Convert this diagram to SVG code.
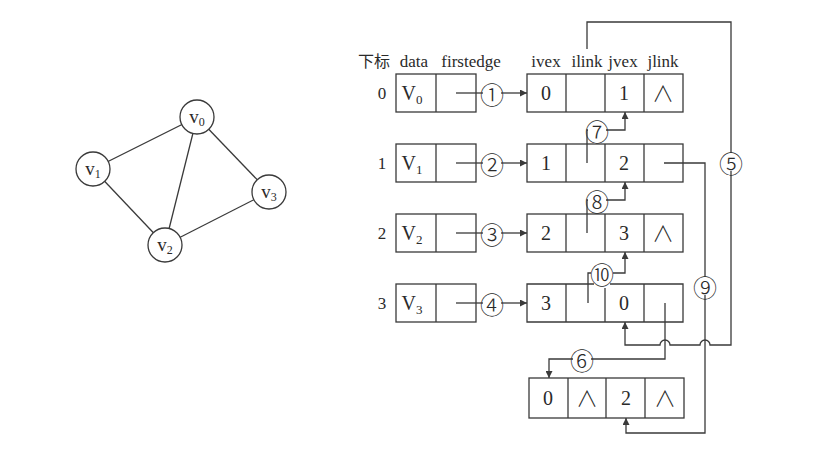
<svg xmlns="http://www.w3.org/2000/svg" width="826" height="459" viewBox="0 0 826 459">
<style>
.ln{stroke:#3a3a3a;stroke-width:1.3;fill:none}
.bx{stroke:#3a3a3a;stroke-width:1.3;fill:#fff}
.t{font-family:"Liberation Serif","Times New Roman",serif;fill:#2a2a2a;text-anchor:middle}
.v{font-size:20px}
.h{font-size:17px}
.s{font-size:13px}
.w{font-family:"Noto Sans CJK SC","DejaVu Sans",sans-serif;font-size:22px;font-weight:300;fill:#2a2a2a;text-anchor:middle}
.c{font-family:"Noto Sans CJK SC","DejaVu Sans",sans-serif;font-size:24px;font-weight:300;fill:#2a2a2a;text-anchor:middle;dominant-baseline:central}
.cj{font-family:"Noto Sans CJK SC",sans-serif;font-size:16px;fill:#2a2a2a}
</style>
<defs>
<marker id="ar" viewBox="0 0 10 10" refX="10" refY="5" markerWidth="9" markerHeight="7" markerUnits="userSpaceOnUse" orient="auto">
<path d="M0,0 L10,5 L0,10 Z" fill="#3a3a3a"/>
</marker>
</defs>
<rect width="826" height="459" fill="#fff"/>

<g id="graph-edges">
<line class="ln" x1="197" y1="117" x2="93" y2="169"/>
<line class="ln" x1="197" y1="117" x2="165" y2="245"/>
<line class="ln" x1="197" y1="117" x2="269" y2="192"/>
<line class="ln" x1="93" y1="169" x2="165" y2="245"/>
<line class="ln" x1="165" y1="245" x2="269" y2="192"/>
</g>
<g id="gv0"><circle class="bx" cx="197" cy="117" r="17"/><text class="t" x="197" y="123" font-size="19">v<tspan font-size="12" dy="3">0</tspan></text></g>
<g id="gv1"><circle class="bx" cx="93" cy="169" r="17"/><text class="t" x="93" y="175" font-size="19">v<tspan font-size="12" dy="3">1</tspan></text></g>
<g id="gv2"><circle class="bx" cx="165" cy="245" r="17"/><text class="t" x="165" y="251" font-size="19">v<tspan font-size="12" dy="3">2</tspan></text></g>
<g id="gv3"><circle class="bx" cx="269" cy="192" r="17"/><text class="t" x="269" y="198" font-size="19">v<tspan font-size="12" dy="3">3</tspan></text></g>

<g id="headers">
<text class="cj" x="358" y="67">下标</text>
<text class="t h" x="414" y="67">data</text>
<text class="t h" x="471" y="67">firstedge</text>
<text class="t h" x="546" y="67">ivex</text>
<text class="t h" x="587" y="67">ilink</text>
<text class="t h" x="623" y="67">jvex</text>
<text class="t h" x="663" y="67">jlink</text>
</g>

<g id="vertex0">
<text class="t h" x="382" y="99">0</text>
<rect class="bx" x="396" y="74" width="80" height="38"/><line class="ln" x1="436" y1="74" x2="436" y2="112"/>
<text class="t v" x="412" y="100">V<tspan class="s" dy="4">0</tspan></text>
</g>
<g id="vertex1">
<text class="t h" x="382" y="169">1</text>
<rect class="bx" x="396" y="144" width="80" height="38"/><line class="ln" x1="436" y1="144" x2="436" y2="182"/>
<text class="t v" x="412" y="170">V<tspan class="s" dy="4">1</tspan></text>
</g>
<g id="vertex2">
<text class="t h" x="382" y="239">2</text>
<rect class="bx" x="396" y="214" width="80" height="38"/><line class="ln" x1="436" y1="214" x2="436" y2="252"/>
<text class="t v" x="412" y="240">V<tspan class="s" dy="4">2</tspan></text>
</g>
<g id="vertex3">
<text class="t h" x="382" y="309">3</text>
<rect class="bx" x="396" y="284" width="80" height="38"/><line class="ln" x1="436" y1="284" x2="436" y2="322"/>
<text class="t v" x="412" y="310">V<tspan class="s" dy="4">3</tspan></text>
</g>

<g id="edge01">
<rect class="bx" x="527" y="74" width="156" height="38"/>
<line class="ln" x1="566" y1="74" x2="566" y2="112"/><line class="ln" x1="605" y1="74" x2="605" y2="112"/><line class="ln" x1="644" y1="74" x2="644" y2="112"/>
<text class="t v" x="546" y="100">0</text><text class="t v" x="624" y="100">1</text><text class="w" x="663" y="101">∧</text>
</g>
<g id="edge12">
<rect class="bx" x="527" y="144" width="156" height="38"/>
<line class="ln" x1="566" y1="144" x2="566" y2="182"/><line class="ln" x1="605" y1="144" x2="605" y2="182"/><line class="ln" x1="644" y1="144" x2="644" y2="182"/>
<text class="t v" x="546" y="170">1</text><text class="t v" x="624" y="170">2</text>
</g>
<g id="edge23">
<rect class="bx" x="527" y="214" width="156" height="38"/>
<line class="ln" x1="566" y1="214" x2="566" y2="252"/><line class="ln" x1="605" y1="214" x2="605" y2="252"/><line class="ln" x1="644" y1="214" x2="644" y2="252"/>
<text class="t v" x="546" y="240">2</text><text class="t v" x="624" y="240">3</text><text class="w" x="663" y="241">∧</text>
</g>
<g id="edge30">
<path class="ln" d="M594,284 H527 V322 H683 V284 H610"/>
<line class="ln" x1="566" y1="284" x2="566" y2="322"/><line class="ln" x1="605" y1="288" x2="605" y2="322"/><line class="ln" x1="644" y1="284" x2="644" y2="322"/>
<text class="t v" x="546" y="310">3</text><text class="t v" x="624" y="310">0</text>
</g>
<g id="edge02">
<rect class="bx" x="529" y="378" width="155" height="40"/>
<line class="ln" x1="568" y1="378" x2="568" y2="418"/><line class="ln" x1="606" y1="378" x2="606" y2="418"/><line class="ln" x1="645" y1="378" x2="645" y2="418"/>
<text class="t v" x="548" y="405">0</text><text class="w" x="587" y="406">∧</text><text class="t v" x="626" y="405">2</text><text class="w" x="665" y="406">∧</text>
</g>

<g id="connectors">
<path class="ln" d="M456,93 H483" /><path class="ln" d="M501,93 H527" marker-end="url(#ar)"/>
<path class="ln" d="M456,163 H483" /><path class="ln" d="M501,163 H527" marker-end="url(#ar)"/>
<path class="ln" d="M456,233 H483" /><path class="ln" d="M501,233 H527" marker-end="url(#ar)"/>
<path class="ln" d="M456,303 H483" /><path class="ln" d="M501,303 H527" marker-end="url(#ar)"/>
<path class="ln" d="M587,163 V130 H588"/><path class="ln" d="M606,130 H625 V112" marker-end="url(#ar)"/>
<path class="ln" d="M587,233 V200 H588"/><path class="ln" d="M606,200 H625 V182" marker-end="url(#ar)"/>
<path class="ln" d="M588,303 V273 H591"/><path class="ln" d="M613,273 H625 V252" marker-end="url(#ar)"/>
<path class="ln" d="M587,49 V22 H731 V153"/>
<path class="ln" d="M731,171 V345 H710 A5,5 0 0 0 700,345 H670 A5,5 0 0 0 660,345 H625 V322" marker-end="url(#ar)"/>
<path class="ln" d="M664,163 H705 V277"/>
<path class="ln" d="M705,295 V433 H626 V418" marker-end="url(#ar)"/>
<path class="ln" d="M665,303 V359 H591"/>
<path class="ln" d="M573,359 H549 V378" marker-end="url(#ar)"/>
<text class="c" x="492" y="93">①</text>
<text class="c" x="492" y="163">②</text>
<text class="c" x="492" y="233">③</text>
<text class="c" x="492" y="303">④</text>
<text class="c" x="731" y="162">⑤</text>
<text class="c" x="582" y="359">⑥</text>
<text class="c" x="597" y="130">⑦</text>
<text class="c" x="597" y="200">⑧</text>
<text class="c" x="705" y="286">⑨</text>
<text class="c" x="602" y="273">⑩</text>
</g>
</svg>
